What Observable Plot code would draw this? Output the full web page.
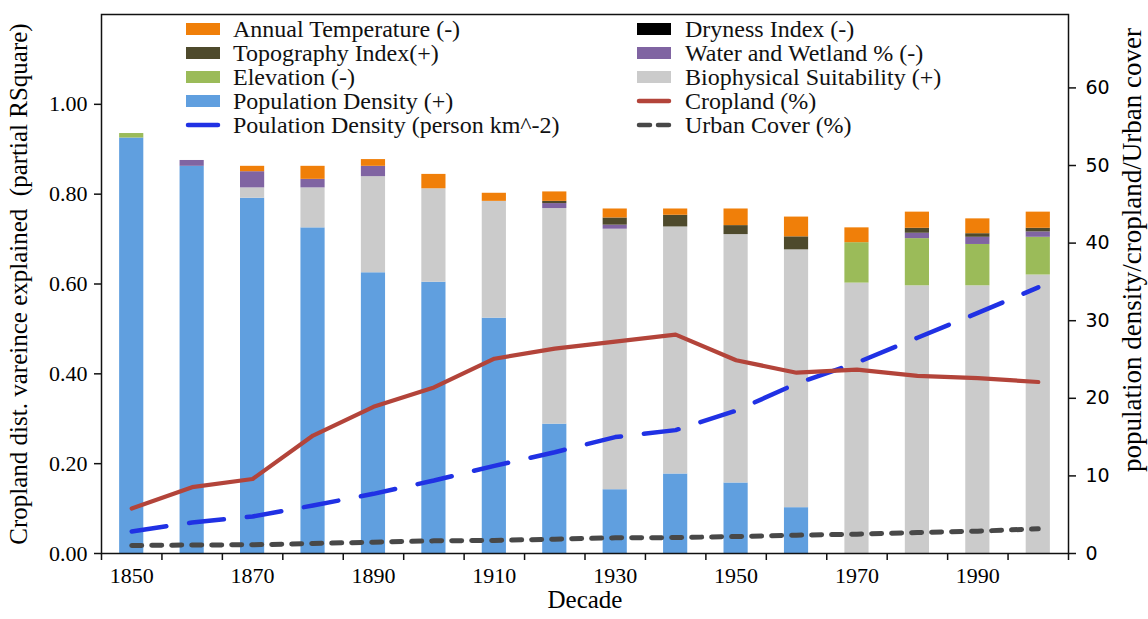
<!DOCTYPE html>
<html><head><meta charset="utf-8">
<script src="https://cdn.jsdelivr.net/npm/d3@7"></script>
<script src="https://cdn.jsdelivr.net/npm/@observablehq/plot@0.6"></script>
<style>body{margin:0;background:#fff} #chart{width:1148px;height:619px}</style>
</head><body><div id="chart"></div>
<script>
const decades = [1850,1860,1870,1880,1890,1900,1910,1920,1930,1940,1950,1960,1970,1980,1990,2000];
// partial R-square components (left axis)
const popDensityShare = [0.925,0.862,0.791,0.725,0.625,0.604,0.524,0.288,0.142,0.177,0.157,0.102,0,0,0,0];
const biophysical     = [0,0,0.023,0.089,0.214,0.208,0.260,0.480,0.580,0.550,0.553,0.574,0.602,0.596,0.596,0.620];
const elevation       = [0.010,0,0,0,0,0,0,0,0,0,0,0,0.090,0.105,0.092,0.084];
const waterWetland    = [0,0.013,0.036,0.019,0.023,0,0,0.011,0.009,0,0,0,0,0.012,0.016,0.012];
const topography      = [0,0,0,0,0,0,0,0.005,0.016,0.026,0.020,0.029,0,0.011,0.008,0.008];
const dryness         = [0,0,0,0,0,0,0,0,0,0,0,0,0,0,0,0];
const temperature     = [0,0,0.012,0.029,0.015,0.032,0.018,0.021,0.020,0.014,0.037,0.044,0.033,0.036,0.033,0.036];
// right-axis series
const croplandPct = [5.8,8.55,9.6,15.2,18.9,21.4,25.1,26.4,27.3,28.2,24.9,23.3,23.7,22.9,22.6,22.1];
const popDensity  = [2.83,4.0,4.77,6.19,7.69,9.4,11.3,13.05,15.0,15.9,18.4,21.9,24.6,27.8,31.0,34.3];
const urbanPct    = [1.03,1.1,1.12,1.29,1.46,1.63,1.68,1.85,2.02,2.05,2.19,2.36,2.49,2.71,2.88,3.18];
// ticks
const xTickYears  = [1845,1855,1865,1875,1885,1895,1905,1915,1925,1935,1945,1955,1965,1975,1985,1995,2005];
const xLabelYears = [1850,1870,1890,1910,1930,1950,1970,1990];
const leftTicks   = [0,0.2,0.4,0.6,0.8,1.0];
const rightTicks  = [0,10,20,30,40,50,60];

const seriesNames = ["Population Density (+)","Biophysical Suitability (+)","Elevation (-)","Water and Wetland % (-)","Topography Index(+)","Dryness Index (-)","Annual Temperature (-)"];
const seriesValues = [popDensityShare,biophysical,elevation,waterWetland,topography,dryness,temperature];
const seriesColors = ["#609fdf","#cbcbcb","#9bbb59","#8064a2","#4e4a2c","#000000","#f07f09"];

const stacked = [];
seriesNames.forEach((s,si)=>decades.forEach((d,i)=>stacked.push({decade:d, series:s, value:seriesValues[si][i]})));

const leftMax = 1.2, rightMax = 69.46;
const k = leftMax / rightMax;
const lineRows = decades.map((d,i)=>({decade:d, crop:croplandPct[i]*k, pop:popDensity[i]*k, urban:urbanPct[i]*k}));

const font = "'Liberation Serif', serif";
const chart = Plot.plot({
  width: 1148, height: 619,
  marginLeft: 101, marginRight: 80, marginTop: 14, marginBottom: 66,
  style: {fontFamily: font, background: "#fff", color: "#000"},
  x: {type: "linear", domain: [1845, 2005]},
  y: {domain: [0, leftMax]},
  color: {domain: seriesNames, range: seriesColors},
  marks: [
    Plot.rectY(stacked, {x1: d => d.decade - 2, x2: d => d.decade + 2, y: "value", z: "series", fill: "series", order: seriesNames}),
    Plot.line(lineRows, {x: "decade", y: "urban", stroke: "#484848", strokeWidth: 5, strokeDasharray: "10,10", strokeLinecap: "round"}),
    Plot.line(lineRows, {x: "decade", y: "pop", stroke: "#2031e4", strokeWidth: 4.5, strokeDasharray: "35,23", strokeLinecap: "round"}),
    Plot.line(lineRows, {x: "decade", y: "crop", stroke: "#b3443a", strokeWidth: 4.2}),
    Plot.frame({stroke: "#111", strokeWidth: 1.5}),
    Plot.axisX({ticks: xTickYears, tickFormat: () => "", tickSize: 7, stroke: "#111", strokeWidth: 1.5, label: null}),
    Plot.axisX({ticks: xLabelYears, tickFormat: d => String(d), tickSize: 0, tickPadding: 14, fontSize: 22, label: null}),
    Plot.axisY({ticks: leftTicks, anchor: "left", tickFormat: d3.format(".2f"), tickSize: 7, tickPadding: 7, fontSize: 22, label: null, stroke: "#111", strokeWidth: 1.5}),
    Plot.axisY({ticks: rightTicks.map(v => v * k), anchor: "right", tickFormat: v => String(Math.round(v / k)), tickSize: 7, tickPadding: 10, fontSize: 19, label: null, stroke: "#111", strokeWidth: 1.5}),
    Plot.text(["Decade"], {frameAnchor: "bottom", dy: 54, fontSize: 25}),
    Plot.text(["Cropland dist. vareince explained  (partial RSquare)"], {frameAnchor: "left", textAnchor: "middle", rotate: -90, dx: -83, fontSize: 25}),
    Plot.text(["population density/cropland/Urban cover"], {frameAnchor: "right", textAnchor: "middle", rotate: -90, dx: 64, dy: -34, fontSize: 27})
  ]
});
document.getElementById("chart").appendChild(chart);

const svg = d3.select(chart);
svg.selectAll("text").style("font-family", font);
// right-axis tick labels use a sans face
svg.selectAll('g[aria-label="y-axis tick label"]').each(function() {
  const g = d3.select(this);
  if (g.attr("text-anchor") === "start") g.selectAll("text").style("font-family", "'DejaVu Sans', sans-serif");
});

// legend
const lg = svg.append("g").attr("text-anchor", "start");
const leftCol = [
  {label: "Annual Temperature (-)", type: "rect", color: "#f07f09"},
  {label: "Topography Index(+)", type: "rect", color: "#4e4a2c"},
  {label: "Elevation (-)", type: "rect", color: "#9bbb59"},
  {label: "Population Density (+)", type: "rect", color: "#609fdf"},
  {label: "Poulation Density (person km^-2)", type: "line", color: "#2031e4", dash: null}
];
const rightCol = [
  {label: "Dryness Index (-)", type: "rect", color: "#000000"},
  {label: "Water and Wetland % (-)", type: "rect", color: "#8064a2"},
  {label: "Biophysical Suitability (+)", type: "rect", color: "#cbcbcb"},
  {label: "Cropland (%)", type: "line", color: "#b3443a", dash: null},
  {label: "Urban Cover (%)", type: "line", color: "#484848", dash: "11,8"}
];
function drawCol(items, sx, tx) {
  items.forEach((it, i) => {
    const cy = 29 + i * 24;
    if (it.type === "rect") {
      lg.append("rect").attr("x", sx).attr("y", cy - 6).attr("width", 34).attr("height", 12).attr("fill", it.color);
    } else {
      const l = lg.append("line").attr("x1", sx + 2).attr("x2", sx + 32).attr("y1", cy).attr("y2", cy)
        .attr("stroke", it.color).attr("stroke-width", 4.5).attr("stroke-linecap", "round");
      if (it.dash) l.attr("stroke-dasharray", it.dash);
    }
    lg.append("text").attr("x", tx).attr("y", cy).attr("dy", "0.35em").attr("text-anchor", "start")
      .style("font-family", font).style("font-size", "24px").attr("fill", "#111").text(it.label);
  });
}
drawCol(leftCol, 186, 233);
drawCol(rightCol, 637, 685);
</script>
</body></html>
